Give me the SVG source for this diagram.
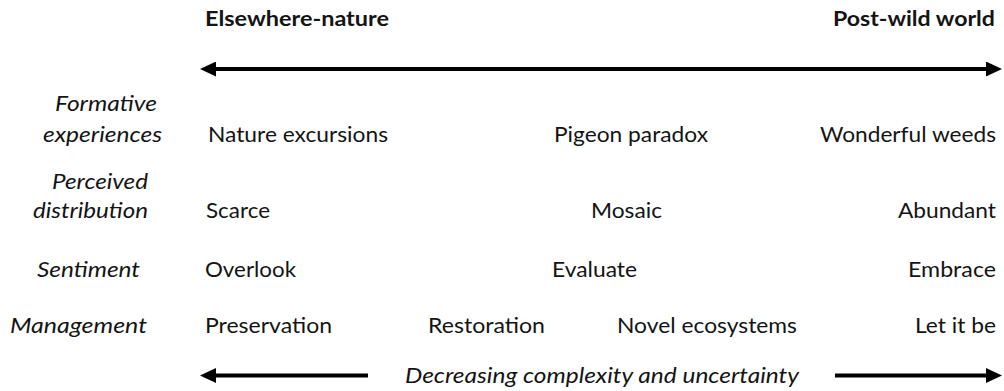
<svg xmlns="http://www.w3.org/2000/svg" width="1004" height="391" viewBox="0 0 1004 391">
  <style>
    text { font-family: Lato, "Open Sans", "Liberation Sans", sans-serif; font-size: 21px; fill: #141414; }
    .head { font-weight: bold; }
    .lab { font-style: italic; }
    .axis { stroke: #000; stroke-width: 4; fill: none; }
  </style>
  <defs>
    <marker id="tip" viewBox="0 0 16 15" refX="4" refY="7.5" markerWidth="16" markerHeight="15" markerUnits="userSpaceOnUse" orient="auto-start-reverse">
      <path d="M0,0 L16,7.5 L0,15 z" fill="#000"/>
    </marker>
  </defs>
  <rect width="1004" height="391" fill="#fff"/>

  <!-- axis arrows -->
  <g id="connectors">
    <line class="axis" x1="212" y1="69" x2="990" y2="69" marker-start="url(#tip)" marker-end="url(#tip)"/>
    <line class="axis" x1="212" y1="375.5" x2="368" y2="375.5" marker-start="url(#tip)"/>
    <line class="axis" x1="835" y1="375.5" x2="990" y2="375.5" marker-end="url(#tip)"/>
  </g>

  <!-- end-point headings -->
  <g id="heading-left"><text class="head" x="205" y="26" textLength="184" lengthAdjust="spacingAndGlyphs">Elsewhere-nature</text></g>
  <g id="heading-right"><text class="head" x="833" y="26" textLength="162" lengthAdjust="spacingAndGlyphs">Post-wild world</text></g>

  <!-- row labels -->
  <g id="label-formative">
    <text class="lab" x="55" y="111" textLength="102" lengthAdjust="spacingAndGlyphs">Formative</text>
    <text class="lab" x="43" y="142" textLength="119" lengthAdjust="spacingAndGlyphs">experiences</text>
  </g>
  <g id="label-distribution">
    <text class="lab" x="52" y="189" textLength="96" lengthAdjust="spacingAndGlyphs">Perceived</text>
    <text class="lab" x="33" y="218" textLength="115" lengthAdjust="spacingAndGlyphs">distribution</text>
  </g>
  <g id="label-sentiment"><text class="lab" x="37" y="277" textLength="103" lengthAdjust="spacingAndGlyphs">Sentiment</text></g>
  <g id="label-management"><text class="lab" x="10" y="333" textLength="137" lengthAdjust="spacingAndGlyphs">Management</text></g>

  <!-- formative experiences row -->
  <g id="nature-excursions"><text x="208" y="142" textLength="180" lengthAdjust="spacingAndGlyphs">Nature excursions</text></g>
  <g id="pigeon-paradox"><text x="554" y="142" textLength="154" lengthAdjust="spacingAndGlyphs">Pigeon paradox</text></g>
  <g id="wonderful-weeds"><text x="820" y="142" textLength="176" lengthAdjust="spacingAndGlyphs">Wonderful weeds</text></g>

  <!-- perceived distribution row -->
  <g id="scarce"><text x="206" y="218" textLength="64" lengthAdjust="spacingAndGlyphs">Scarce</text></g>
  <g id="mosaic"><text x="591" y="218" textLength="71" lengthAdjust="spacingAndGlyphs">Mosaic</text></g>
  <g id="abundant"><text x="898" y="218" textLength="98" lengthAdjust="spacingAndGlyphs">Abundant</text></g>

  <!-- sentiment row -->
  <g id="overlook"><text x="205" y="277" textLength="91" lengthAdjust="spacingAndGlyphs">Overlook</text></g>
  <g id="evaluate"><text x="552" y="277" textLength="85" lengthAdjust="spacingAndGlyphs">Evaluate</text></g>
  <g id="embrace"><text x="908" y="277" textLength="88" lengthAdjust="spacingAndGlyphs">Embrace</text></g>

  <!-- management row -->
  <g id="preservation"><text x="205" y="333" textLength="127" lengthAdjust="spacingAndGlyphs">Preservation</text></g>
  <g id="restoration"><text x="428" y="333" textLength="117" lengthAdjust="spacingAndGlyphs">Restoration</text></g>
  <g id="novel-ecosystems"><text x="617" y="333" textLength="180" lengthAdjust="spacingAndGlyphs">Novel ecosystems</text></g>
  <g id="let-it-be"><text x="915" y="333" textLength="81" lengthAdjust="spacingAndGlyphs">Let it be</text></g>

  <!-- axis caption -->
  <g id="caption"><text class="lab" x="405" y="383" textLength="394" lengthAdjust="spacingAndGlyphs">Decreasing complexity and uncertainty</text></g>
</svg>
